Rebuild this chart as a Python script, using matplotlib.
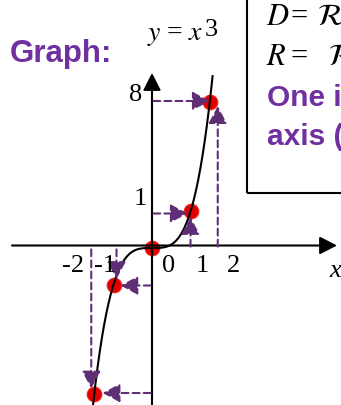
import matplotlib
matplotlib.use("Agg")
import matplotlib.pyplot as plt
import matplotlib.transforms as mtransforms
from matplotlib.patches import Rectangle, ArrowStyle
import numpy as np

W, H = 341, 405

# points shown on y = x^3
x_points = [-2, -1, 0, 1, 2]
y_points = [-8, -1, 0, 1, 8]
x_tick_labels = ["-2", "-1", "0", "1", "2"]
y_tick_labels = ["8", "1"]
box_lines = [("D", r"\mathcal{R}"), ("R", r"\mathcal{R}")]
box_notes = ["One i", "axis ("]

PURPLE = "#7030A0"
DASH = "#5F2F75"


def spow(p):
    def fwd(v):
        return np.sign(v) * np.abs(v) ** p

    def inv(u):
        return np.sign(u) * np.abs(u) ** (1.0 / p)

    return fwd, inv


def fpx(x, y):
    """pixel (from top-left) -> figure fraction"""
    return x / W, 1 - y / H


plt.rcParams["mathtext.fontset"] = "stix"
fig = plt.figure(figsize=(W / 100, H / 100), dpi=100)
ax = fig.add_axes([0, 0, 1, 1])
ax.axis("off")

# sketch-like scales: origin at (152, 248) px
xf, xi = spow(0.585)
yf, yi = spow(2 / 3)
ax.set_xscale("function", functions=(xf, xi))
ax.set_yscale("function", functions=(yf, yi))
ax.set_xlim(xi(-152 / 38.5), xi((W - 152) / 38.5))
ax.set_ylim(yi(-(H - 248) / 36.5), yi(248 / 36.5))

# axes with arrows
axis_style = ArrowStyle("-|>", head_length=10.5, head_width=5.4)
ax.annotate("", xy=fpx(337, 245.5), xytext=fpx(12, 245.5), xycoords="figure fraction",
            arrowprops=dict(arrowstyle=axis_style, color="black", lw=1.5,
                            shrinkA=0, shrinkB=0, mutation_scale=1))
ax.annotate("", xy=fpx(152, 73), xytext=fpx(152, 410), xycoords="figure fraction",
            arrowprops=dict(arrowstyle=axis_style, color="black", lw=1.5,
                            shrinkA=0, shrinkB=0, mutation_scale=1))

# points and curve
ax.plot(x_points, y_points, "o", ms=10.5, mfc="#E00000", mec="#F52020", mew=0.8, zorder=2)
x_curve = np.linspace(-2.25, 2.17, 400)
ax.plot(x_curve, x_curve ** 3, color="black", lw=1.5, zorder=3)

# dashed arrows: horizontal from the y-axis, vertical from the x-axis
head = ArrowStyle("-|>", head_length=10.5, head_width=5.6)
h_shift = {8: (0, 1, 0), 1: (0, -2, 2), -1: (0, -1, 5), -8: (0, 1, 6)}
v_shift = {2: (8, 0, 3), 1: (0, 0, 4), -1: (3, 0, 4), -2: (-3, 0, 4)}


def shifted(dx, dy):
    return ax.transData + mtransforms.Affine2D().translate(dx, dy)


for x, y in zip(x_points, y_points):
    if x == 0:
        continue
    dx, dy, sb = h_shift[y]
    ax.annotate("", xy=(x, y), xytext=(0, y), xycoords=shifted(dx, dy),
                arrowprops=dict(arrowstyle=head, color=DASH, lw=1.5, linestyle=(0, (3.3, 2)),
                                shrinkA=1, shrinkB=sb, mutation_scale=1), zorder=4)
    dx, dy, sb = v_shift[x]
    ax.annotate("", xy=(x, y), xytext=(x, 0), xycoords=shifted(dx, dy),
                arrowprops=dict(arrowstyle=head, color=DASH, lw=1.5, linestyle=(0, (3.3, 2)),
                                shrinkA=1, shrinkB=sb, mutation_scale=1), zorder=4)

# tick labels
serif = dict(family="Liberation Serif", fontsize=19, color="black")
for lab, xp in zip(x_tick_labels, [73, 105, 169, 202, 234]):
    fig.text(*fpx(xp, 266), lab, ha="center", va="center", **serif)
for lab, yp in zip(y_tick_labels, [95, 199]):
    fig.text(*fpx(136 if lab == "8" else 140, yp), lab, ha="center", va="center", **serif)
fig.text(*fpx(329, 277), "x", ha="left", va="baseline", style="italic", **serif)

# titles
fig.text(*fpx(10, 62), "Graph:", ha="left", va="baseline", family="Liberation Sans",
         fontweight="bold", fontsize=22.5, color=PURPLE)
fig.text(*fpx(147, 40), r"$y$", ha="left", va="baseline", fontsize=20)
fig.text(*fpx(167, 40), "=", ha="left", va="baseline", family="Liberation Serif", fontsize=20)
fig.text(*fpx(188, 40), r"$x$", ha="left", va="baseline", fontsize=20)
fig.text(*fpx(205, 36), "3", ha="left", va="baseline", family="Liberation Serif", fontsize=19)

# info box (cut off by the figure edge)
fig.patches.append(Rectangle(fpx(247, 193), 1, 1, transform=fig.transFigure, fill=False,
                             edgecolor="black", lw=1.5))
for (lhs, rhs), yp, xr in zip(box_lines, [25, 65], [317, 328]):
    fig.text(*fpx(266, yp), f"${lhs}$", ha="left", va="baseline", fontsize=22)
    fig.text(*fpx(291, yp), "=", ha="left", va="baseline", family="Liberation Serif", fontsize=22)
    fig.text(*fpx(xr, yp), f"${rhs}$", ha="left", va="baseline", fontsize=22)
for s, yp in zip(box_notes, [106, 145]):
    fig.text(*fpx(267, yp), s, ha="left", va="baseline", family="Liberation Sans",
             fontweight="bold", fontsize=21.5, color=PURPLE)

fig.savefig("out.png", dpi=100)
